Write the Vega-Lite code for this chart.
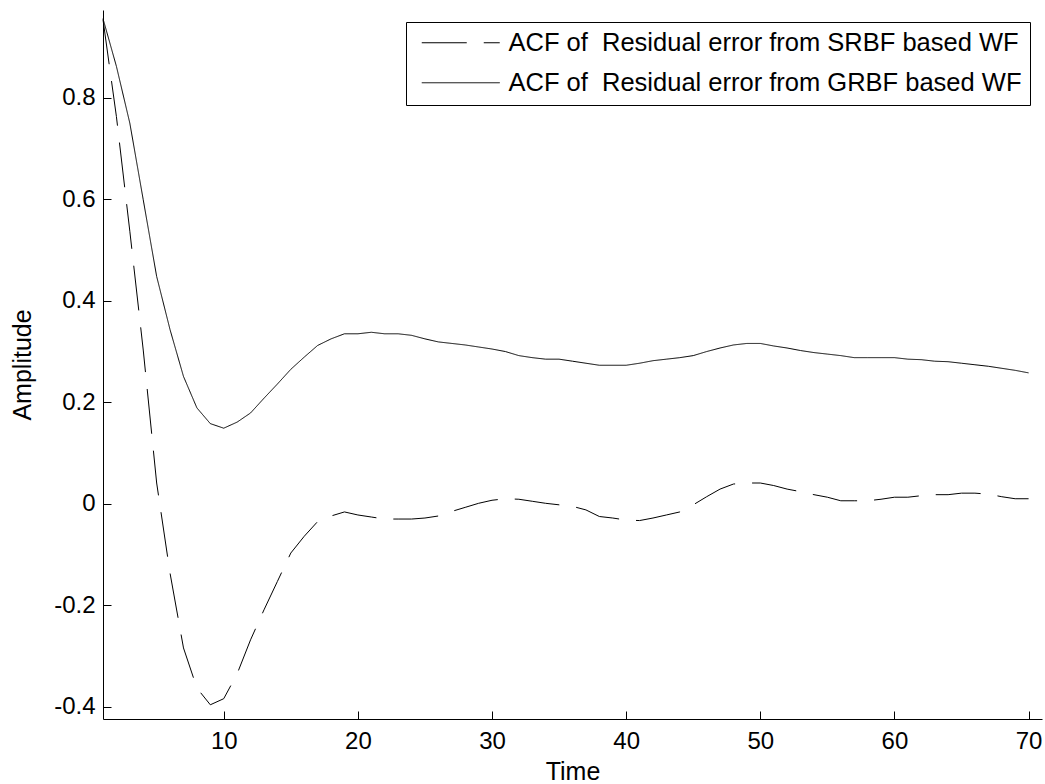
{
  "$schema": "https://vega.github.io/schema/vega-lite/v6.json",
  "width": 939,
  "height": 709,
  "autosize": {"type": "none"},
  "padding": {"left": 103, "top": 10, "right": 3, "bottom": 65},
  "background": "white",
  "config": {
    "view": {"stroke": null},
    "font": "Liberation Sans",
    "axis": {
      "grid": false,
      "domainColor": "black",
      "domainWidth": 1,
      "tickColor": "black",
      "tickWidth": 1,
      "tickSize": -8,
      "labelFont": "Liberation Sans",
      "labelFontSize": 24,
      "labelColor": "black",
      "titleFont": "Liberation Sans",
      "titleFontSize": 25,
      "titleFontWeight": "normal",
      "titleColor": "black"
    },
    "legend": {
      "labelFont": "Liberation Sans",
      "labelFontSize": 25.5,
      "labelColor": "black"
    }
  },
  "data": {
    "values": [
      {"t":1,"S":0.954,"G":0.956},{"t":2,"S":0.763,"G":0.862},{"t":3,"S":0.537,"G":0.750},{"t":4,"S":0.303,"G":0.599},{"t":5,"S":0.041,"G":0.448},
      {"t":6,"S":-0.137,"G":0.343},{"t":7,"S":-0.284,"G":0.251},{"t":8,"S":-0.363,"G":0.189},{"t":9,"S":-0.396,"G":0.158},{"t":10,"S":-0.384,"G":0.149},
      {"t":11,"S":-0.335,"G":0.161},{"t":12,"S":-0.268,"G":0.179},{"t":13,"S":-0.209,"G":0.208},{"t":14,"S":-0.153,"G":0.236},{"t":15,"S":-0.097,"G":0.265},
      {"t":16,"S":-0.064,"G":0.289},{"t":17,"S":-0.035,"G":0.312},{"t":18,"S":-0.024,"G":0.325},{"t":19,"S":-0.016,"G":0.335},{"t":20,"S":-0.022,"G":0.335},
      {"t":21,"S":-0.026,"G":0.338},{"t":22,"S":-0.030,"G":0.335},{"t":23,"S":-0.030,"G":0.335},{"t":24,"S":-0.030,"G":0.332},{"t":25,"S":-0.028,"G":0.325},
      {"t":26,"S":-0.024,"G":0.319},{"t":27,"S":-0.015,"G":0.316},{"t":28,"S":-0.007,"G":0.313},{"t":29,"S":0.001,"G":0.309},{"t":30,"S":0.007,"G":0.305},
      {"t":31,"S":0.010,"G":0.300},{"t":32,"S":0.009,"G":0.292},{"t":33,"S":0.005,"G":0.288},{"t":34,"S":0.001,"G":0.285},{"t":35,"S":-0.002,"G":0.285},
      {"t":36,"S":-0.005,"G":0.281},{"t":37,"S":-0.012,"G":0.277},{"t":38,"S":-0.025,"G":0.273},{"t":39,"S":-0.028,"G":0.273},{"t":40,"S":-0.032,"G":0.273},
      {"t":41,"S":-0.033,"G":0.277},{"t":42,"S":-0.028,"G":0.282},{"t":43,"S":-0.022,"G":0.285},{"t":44,"S":-0.016,"G":0.288},{"t":45,"S":-0.002,"G":0.292},
      {"t":46,"S":0.014,"G":0.300},{"t":47,"S":0.029,"G":0.307},{"t":48,"S":0.039,"G":0.313},{"t":49,"S":0.041,"G":0.316},{"t":50,"S":0.041,"G":0.316},
      {"t":51,"S":0.036,"G":0.311},{"t":52,"S":0.029,"G":0.307},{"t":53,"S":0.024,"G":0.302},{"t":54,"S":0.018,"G":0.298},{"t":55,"S":0.013,"G":0.295},
      {"t":56,"S":0.006,"G":0.292},{"t":57,"S":0.006,"G":0.288},{"t":58,"S":0.006,"G":0.288},{"t":59,"S":0.009,"G":0.288},{"t":60,"S":0.013,"G":0.288},
      {"t":61,"S":0.013,"G":0.285},{"t":62,"S":0.016,"G":0.284},{"t":63,"S":0.018,"G":0.281},{"t":64,"S":0.018,"G":0.280},{"t":65,"S":0.021,"G":0.277},
      {"t":66,"S":0.021,"G":0.274},{"t":67,"S":0.019,"G":0.271},{"t":68,"S":0.014,"G":0.267},{"t":69,"S":0.010,"G":0.263},{"t":70,"S":0.010,"G":0.258}
    ]
  },
  "transform": [{"fold": ["S", "G"], "as": ["series", "v"]}],
  "mark": {"type": "line", "color": "black", "strokeWidth": 1, "interpolate": "linear"},
  "encoding": {
    "x": {
      "field": "t",
      "type": "quantitative",
      "scale": {"domain": [1, 71], "nice": false, "zero": false},
      "axis": {"values": [10, 20, 30, 40, 50, 60, 70], "title": "Time", "labelPadding": 18, "titlePadding": 6}
    },
    "y": {
      "field": "v",
      "type": "quantitative",
      "scale": {"domain": [-0.424, 0.973], "nice": false, "zero": false},
      "axis": {
        "values": [-0.4, -0.2, 0, 0.2, 0.4, 0.6, 0.8],
        "labelExpr": "replace(format(datum.value, '.1~f'), '\u2212', '-')",
        "title": "Amplitude",
        "labelPadding": 16,
        "titlePadding": 18
      }
    },
    "strokeDash": {
      "field": "series",
      "type": "nominal",
      "scale": {"domain": ["S", "G"], "range": [[45, 17], [1, 0]]},
      "legend": {
        "title": null,
        "orient": "top-right",
        "offset": 12,
        "fillColor": "white",
        "strokeColor": "black",
        "padding": 8,
        "symbolType": "M-4,0H4",
        "symbolSize": 380,
        "symbolOffset": 34,
        "symbolStrokeWidth": 1,
        "symbolStrokeColor": "black",
        "symbolFillColor": "transparent",
        "labelOffset": 35,
        "labelLimit": 0,
        "rowPadding": 13,
        "labelExpr": "datum.label == 'S' ? 'ACF of\u00a0 Residual error from SRBF based WF' : 'ACF of\u00a0 Residual error from GRBF based WF'"
      }
    }
  }
}
